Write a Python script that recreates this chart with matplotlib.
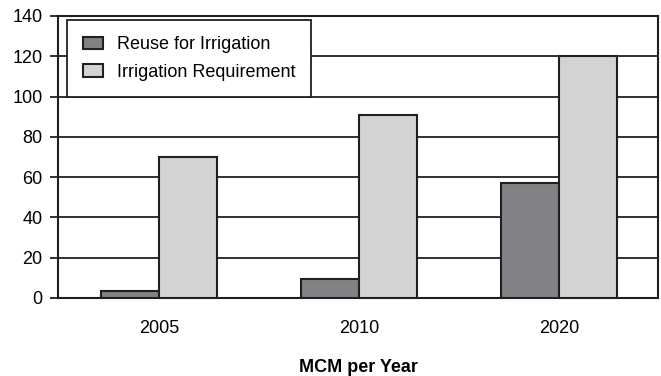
import numpy as np
import matplotlib.pyplot as plt

plt.rcParams['font.family'] = ['Liberation Sans', 'DejaVu Sans']

years = ['2005', '2010', '2020']
reuse = [3.5, 9.5, 57]
requirement = [70, 91, 120]

dark = '#231f20'
fs = 13
fig = plt.figure(figsize=(6.61, 3.76), dpi=100)
ax = fig.add_axes([58 / 661, 1 - 298 / 376, 600 / 661, 282 / 376])

x = np.arange(len(years))
w = 0.29
ax.bar(x - w / 2, reuse, w, color='#808285', edgecolor=dark, linewidth=1.5,
       label='Reuse for Irrigation', zorder=3)
ax.bar(x + w / 2, requirement, w, color='#d1d3d4', edgecolor=dark, linewidth=1.5,
       label='Irrigation Requirement', zorder=3)

ax.set_ylim(0, 140)
ax.set_yticks(np.arange(0, 141, 20))
ax.set_xlim(-0.505, 2.495)
ax.set_xticks(x)
ax.set_xticklabels(years)
ax.yaxis.grid(True, color=dark, linewidth=1.3, zorder=0)
ax.set_axisbelow(True)

ax.tick_params(axis='y', length=6, width=1.3, color=dark, labelsize=fs, pad=5)
ax.tick_params(axis='x', length=0, labelsize=fs, pad=16)
for s in ax.spines.values():
    s.set_color(dark)
    s.set_linewidth(1.5)

ax.set_xlabel('MCM per Year', fontsize=fs, fontweight='bold', labelpad=16)

leg = ax.legend(loc='upper left', bbox_to_anchor=(0.015, 0.986), borderaxespad=0,
                fancybox=False, framealpha=1, edgecolor=dark, fontsize=fs,
                handlelength=1.1, handleheight=0.7, labelspacing=0.6,
                borderpad=0.9, handletextpad=0.75)
leg.get_frame().set_linewidth(1.3)
leg.set_zorder(5)

fig.savefig('out.png', dpi=100)
